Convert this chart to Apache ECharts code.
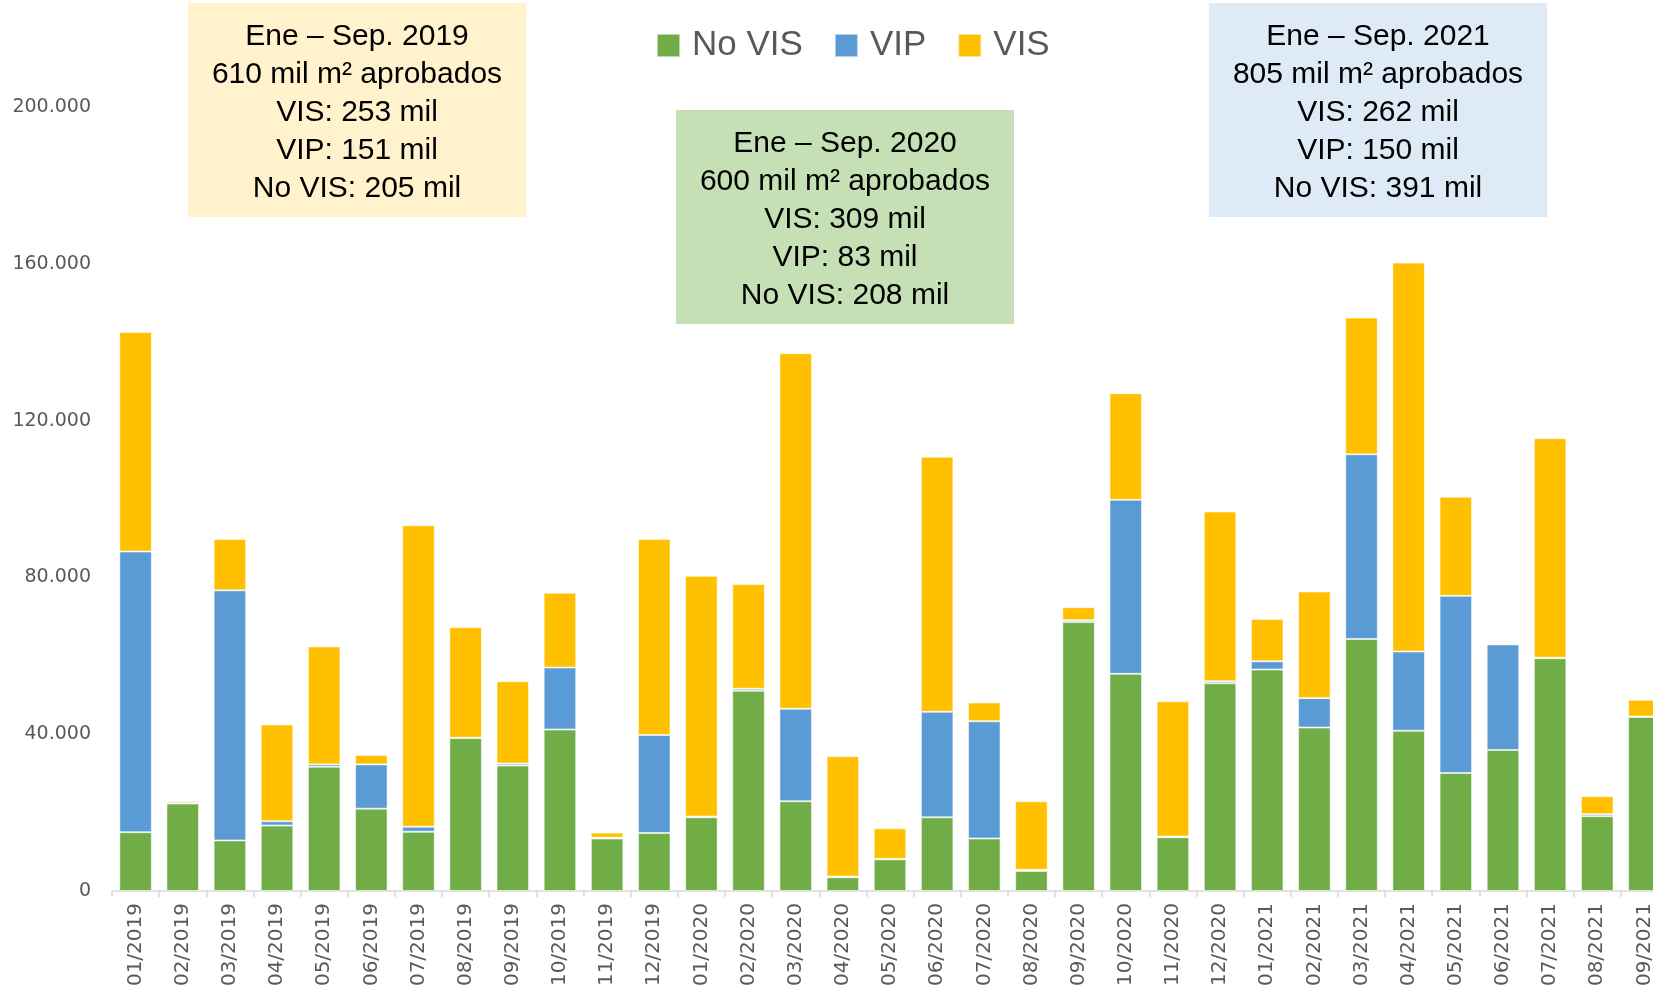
<!DOCTYPE html>
<html>
<head>
<meta charset="utf-8">
<title>Metros aprobados - VIS / VIP / No VIS</title>
<script src="https://cdn.jsdelivr.net/npm/echarts@6/dist/echarts.min.js"></script>
<style>
    html, body { margin: 0; padding: 0; background: #fff; }
    #licencias_chart { width: 1653px; height: 988px; }
</style>
</head>
<body>
<div id="licencias_chart"></div>
<script>

// Data
// ------------------------------

var months = [
    '01/2019', '02/2019', '03/2019', '04/2019', '05/2019', '06/2019', '07/2019', '08/2019', '09/2019', '10/2019', '11/2019', '12/2019',
    '01/2020', '02/2020', '03/2020', '04/2020', '05/2020', '06/2020', '07/2020', '08/2020', '09/2020', '10/2020', '11/2020', '12/2020',
    '01/2021', '02/2021', '03/2021', '04/2021', '05/2021', '06/2021', '07/2021', '08/2021', '09/2021'
];

var noVis = [
    15000, 22300, 12900, 16700, 31700, 21000, 15100, 39000, 32000, 41200, 13400, 14800,
    18800, 51100, 22900, 3500, 8100, 18800, 13400, 5100, 68600, 55400, 13700, 53000,
    56500, 41700, 64300, 40900, 30100, 36000, 59400, 19100, 44400
];

var vip = [
    71600, 400, 63800, 1100, 600, 11300, 1300, 100, 500, 15800, 200, 25000,
    200, 500, 23600, 200, 100, 26900, 29900, 300, 500, 44400, 200, 500,
    2100, 7500, 47100, 20200, 45200, 26900, 100, 500, 100
];

var vis = [
    56000, 400, 13100, 24700, 30100, 2400, 76900, 28200, 21000, 19100, 1300, 50000,
    61400, 26700, 90700, 30700, 7800, 65100, 4800, 17500, 3300, 27200, 34500, 43300,
    10800, 27200, 34900, 99200, 25300, 200, 56000, 4600, 4300
];

var yTicks = [0, 40000, 80000, 120000, 160000, 200000];

var box2019 = ['Ene – Sep. 2019', '610 mil m² aprobados', 'VIS: 253 mil', 'VIP: 151 mil', 'No VIS: 205 mil'];
var box2020 = ['Ene – Sep. 2020', '600 mil m² aprobados', 'VIS: 309 mil', 'VIP: 83 mil', 'No VIS: 208 mil'];
var box2021 = ['Ene – Sep. 2021', '805 mil m² aprobados', 'VIS: 262 mil', 'VIP: 150 mil', 'No VIS: 391 mil'];


// Chart
// ------------------------------

var chart_element = document.getElementById('licencias_chart');
var licencias_chart = echarts.init(chart_element, null, { renderer: 'canvas' });

var boxFont = '30px "Liberation Sans", sans-serif';

// Annotation box (rect + centered text)
var makeBox = function(x, y, w, h, fill, lines) {
    return {
        type: 'group',
        x: x,
        y: y,
        silent: true,
        children: [
            { type: 'rect', shape: { x: 0, y: 0, width: w, height: h }, style: { fill: fill } },
            {
                type: 'text',
                x: w / 2,
                y: h / 2 + 3,
                style: {
                    text: lines.join('\n'),
                    font: boxFont,
                    fill: '#000',
                    align: 'center',
                    verticalAlign: 'middle',
                    lineHeight: 38
                }
            }
        ]
    };
};

var barItem = function(color) {
    return {
        color: color,
        borderColor: 'rgba(255,255,255,0.55)',
        borderWidth: 1
    };
};

licencias_chart.setOption({
    animation: false,

    textStyle: {
        fontFamily: 'DejaVu Sans, sans-serif'
    },

    // Grid runs past the right edge, like the original (last bar clipped)
    grid: {
        left: 112,
        top: 107,
        width: 1556,
        height: 784,
        containLabel: false,
        outerBoundsMode: 'none'
    },

    legend: {
        left: 651,
        top: 23,
        itemWidth: 23,
        itemHeight: 23,
        itemGap: 31,
        icon: 'rect',
        data: ['No VIS', 'VIP', 'VIS'],
        textStyle: {
            fontFamily: '"Liberation Sans", sans-serif',
            fontSize: 35,
            color: '#595959',
            padding: [0, 0, 0, 7]
        }
    },

    xAxis: {
        type: 'category',
        data: months,
        axisLine: { lineStyle: { color: '#D9D9D9', width: 1.5 } },
        axisTick: { show: true, length: 6, lineStyle: { color: '#D9D9D9', width: 1.5 } },
        axisLabel: {
            rotate: 90,
            margin: 12,
            interval: 0,
            fontSize: 20,
            color: '#595959'
        }
    },

    yAxis: {
        type: 'value',
        min: yTicks[0],
        max: yTicks[yTicks.length - 1],
        interval: yTicks[1] - yTicks[0],
        axisLine: { show: false },
        axisTick: { show: false },
        splitLine: { show: false },
        axisLabel: {
            margin: 21,
            fontSize: 19,
            color: '#595959',
            formatter: function(v) {
                return String(v).replace(/\B(?=(\d{3})+(?!\d))/g, '.');
            }
        }
    },

    series: [
        { name: 'No VIS', type: 'bar', stack: 'total', barCategoryGap: '31%', itemStyle: barItem('#70AD47'), data: noVis },
        { name: 'VIP', type: 'bar', stack: 'total', itemStyle: barItem('#5B9BD5'), data: vip },
        { name: 'VIS', type: 'bar', stack: 'total', itemStyle: barItem('#FFC000'), data: vis }
    ],

    graphic: [
        makeBox(188, 3, 338, 214, '#FFF2CC', box2019),
        makeBox(676, 110, 338, 214, '#C5E0B4', box2020),
        makeBox(1209, 3, 338, 214, '#DEEBF7', box2021)
    ]
});

</script>
</body>
</html>
